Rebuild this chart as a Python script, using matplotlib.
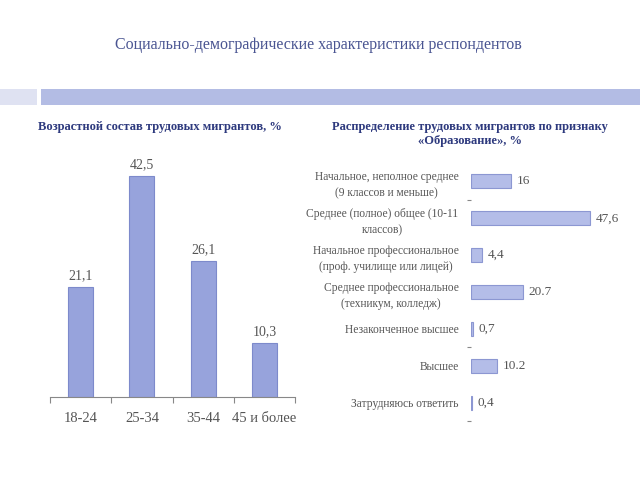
import matplotlib
matplotlib.use("Agg")
import matplotlib.pyplot as plt
import matplotlib.patches as mpatches

plt.rcParams['font.family'] = ['Liberation Serif', 'DejaVu Serif']

# данные: возраст
age_groups = ['18-24', '25-34', '35-44', '45 и более']
age_values = [21.1, 42.5, 26.1, 10.3]

# данные: образование
edu_labels = [
    'Начальное, неполное среднее\n(9 классов и меньше)',
    'Среднее (полное) общее (10-11\nклассов)',
    'Начальное профессиональное\n(проф. училище или лицей)',
    'Среднее профессиональное\n(техникум, колледж)',
    'Незаконченное высшее',
    'Высшее',
    'Затрудняюсь ответить',
]
edu_values = [16, 47.6, 4.4, 20.7, 0.7, 10.2, 0.4]
edu_value_text = ['16', '47,6', '4,4', '20.7', '0,7', '10.2', '0,4']

W, H = 640, 480
fig = plt.figure(figsize=(6.4, 4.8), dpi=100)
fig.patch.set_facecolor('white')

# заголовок
fig.text(318 / W, 1 - 45 / H, 'Социально-демографические характеристики респондентов',
         ha='center', va='center', fontsize=11.5, color='#4a5592')

# декоративная полоса
fig.patches.append(mpatches.Rectangle((0, 1 - 105 / H), 37 / W, 16 / H,
                                      transform=fig.transFigure, facecolor='#dfe2f2',
                                      edgecolor='none'))
fig.patches.append(mpatches.Rectangle((41 / W, 1 - 105 / H), 600 / W, 16 / H,
                                      transform=fig.transFigure, facecolor='#b3bce4',
                                      edgecolor='none'))

# подзаголовки
fig.text(160 / W, 1 - 127 / H, 'Возрастной состав трудовых мигрантов, %',
         ha='center', va='center', fontsize=9, fontweight='bold', color='#2e3a7e')
fig.text(470 / W, 1 - 134 / H,
         'Распределение трудовых мигрантов по признаку\n«Образование», %',
         ha='center', va='center', fontsize=9, fontweight='bold', color='#2e3a7e',
         linespacing=1.25)

text_gray = '#555555'

# левая диаграмма
ax1 = fig.add_axes([50 / W, 83 / H, 245 / W, 260 / H])
x = range(len(age_groups))
ax1.bar(x, age_values, width=0.41, color='#97a3dc', edgecolor='#7d8acb', linewidth=0.8)
for xi, v in zip(x, age_values):
    ax1.text(xi, v + 1.0, f'{v:.1f}'.replace('.', ','), ha='center', va='bottom',
             fontsize=10, color=text_gray)
ax1.set_xlim(-0.5, len(age_groups) - 0.5)
ax1.set_ylim(0, 50)
ax1.set_xticks(list(x))
ax1.set_xticklabels(age_groups, fontsize=10.5, color=text_gray)
ax1.set_xticks([i - 0.5 for i in range(len(age_groups) + 1)], minor=True)
ax1.tick_params(axis='x', which='major', length=0, pad=11)
ax1.tick_params(axis='x', which='minor', length=4, color='#888888', width=0.8)
ax1.set_yticks([])
for s in ['top', 'right', 'left']:
    ax1.spines[s].set_visible(False)
ax1.spines['bottom'].set_color('#888888')
ax1.spines['bottom'].set_linewidth(0.8)

# правая диаграмма
ax2 = fig.add_axes([471 / W, 59 / H, 150 / W, 258 / H])
y = range(len(edu_labels))
ax2.barh(y, edu_values, height=0.38, color='#b4bde8', edgecolor='#8c97d2', linewidth=0.8)
for yi, v, t in zip(y, edu_values, edu_value_text):
    ax2.text(v + 2.4, yi, t, ha='left', va='center', fontsize=9.5, color=text_gray)
ax2.set_ylim(len(edu_labels) - 0.5, -0.5)
ax2.set_xlim(0, 60)
ax2.set_yticks(list(y))
ax2.set_yticklabels(edu_labels, fontsize=8.3, color=text_gray, multialignment='center',
                    linespacing=1.5)
ax2.set_yticks([0.5, 4.5, 6.5], minor=True)
ax2.tick_params(axis='y', which='major', length=0, pad=9)
ax2.tick_params(axis='y', which='minor', length=3, color='#888888', width=0.8)
ax2.set_xticks([])
for s in ['top', 'right', 'left', 'bottom']:
    ax2.spines[s].set_visible(False)

fig.savefig('out.png', dpi=100, facecolor='white')
